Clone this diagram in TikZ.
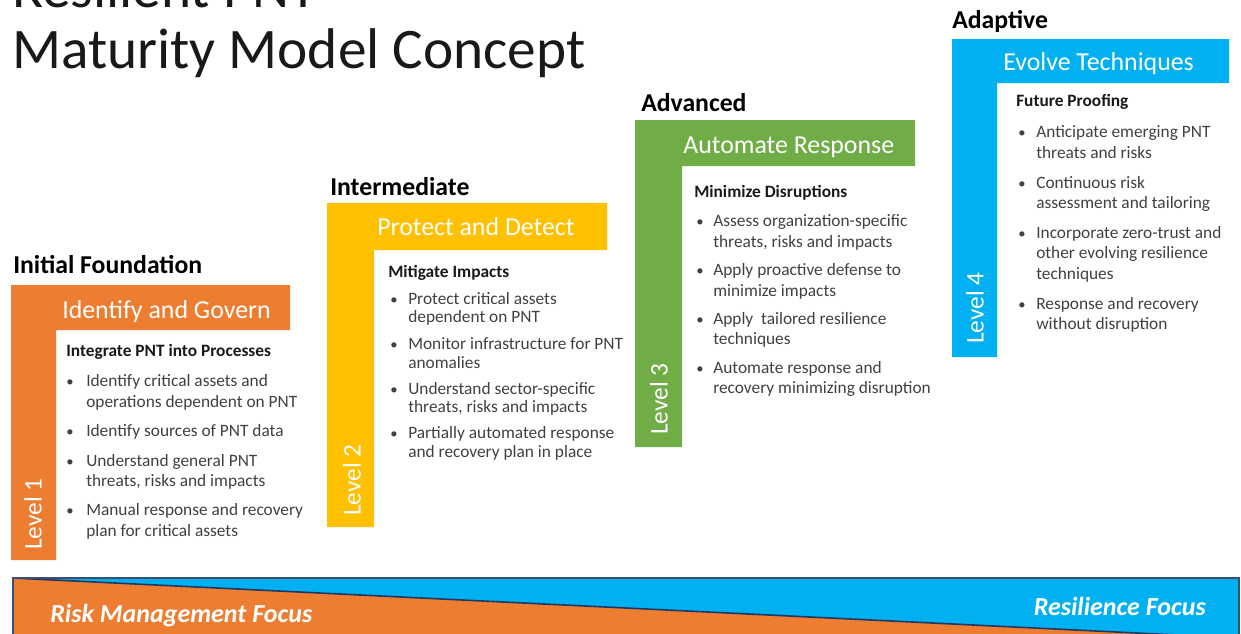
\documentclass[tikz,border=0pt]{standalone}
\usepackage{fontspec}
\setmainfont{Carlito}
\definecolor{lvOrange}{HTML}{ED7D31}
\definecolor{lvYellow}{HTML}{FFC000}
\definecolor{lvGreen}{HTML}{70AD47}
\definecolor{lvBlue}{HTML}{00B0F0}
\definecolor{txtGray}{HTML}{404040}
\definecolor{navyLine}{HTML}{203864}
\begin{document}
\begin{tikzpicture}[x=0.75pt,y=-0.75pt,
  bt/.style={anchor=base west,inner sep=0pt,text=txtGray,font=\fontsize{13}{15}\selectfont},
  bul/.style={anchor=base west,inner sep=0pt,text=txtGray,font=\fontsize{11}{15}\selectfont},
  subhead/.style={anchor=base west,inner sep=0pt,text=black!90,font=\bfseries\fontsize{13}{15}\selectfont},
  cathead/.style={anchor=base west,inner sep=0pt,text=black,font=\bfseries\fontsize{19.3}{22}\selectfont},
  lvtitle/.style={anchor=base west,inner sep=0pt,text=white,font=\fontsize{19.4}{22}\selectfont},
  lvlabel/.style={anchor=center,inner sep=0pt,text=white,rotate=90,font=\fontsize{19}{22}\selectfont},
  focus/.style={inner sep=0pt,text=white,font=\bfseries\itshape\fontsize{19.5}{22}\selectfont}]
\useasboundingbox (0,0) rectangle (1241,633);
\begin{scope}
\clip (0,0) rectangle (1241,633);
% title
\node[anchor=base west,inner sep=0pt,text=black!90,font=\fontsize{43}{48}\selectfont] (title1) at (12,7) {Resilient PNT};
\node[anchor=base west,inner sep=0pt,text=black!90,font=\fontsize{43}{48}\selectfont] (title2) at (12,68) {Maturity Model Concept};

% bottom bar
\fill[lvBlue] (13,578) rectangle (1239,645);
\fill[lvOrange] (13,578) -- (1239,638) -- (1239,645) -- (13,645) -- cycle;
\draw[navyLine,line width=1.2pt] (13,578) -- (1239,638);
\draw[navyLine!70!gray,line width=0.8pt] (13,645) -- (13,578) -- (1239,578) -- (1239,645);
\node[focus,anchor=base west] (riskf) at (50,622) {Risk Management Focus};
\node[focus,anchor=base east] (resf) at (1206,615) {Resilience Focus};
\end{scope}

% ---------- Level 1 ----------
\fill[lvOrange] (11,285) -- (290,285) -- (290,330) -- (56,330) -- (56,560) -- (11,560) -- cycle;
\node[cathead] (c1) at (13,273) {Initial Foundation};
\node[lvtitle] (t1) at (62,318) {Identify and Govern};
\node[lvlabel] (v1) at (33,514) {Level 1};
\node[subhead] (h1) at (66,356) {Integrate PNT into Processes};
\foreach \y in {386,436,466,515} \node[bul] (b1-\y) at (66,\y) {•};
\node[bt] (a1) at (86,386) {Identify critical assets and};
\node[bt] (a2) at (86,407) {operations dependent on PNT};
\node[bt] (a3) at (86,436) {Identify sources of PNT data};
\node[bt] (a4) at (86,466) {Understand general PNT};
\node[bt] (a5) at (86,486) {threats, risks and impacts};
\node[bt] (a6) at (86,515) {Manual response and recovery};
\node[bt] (a7) at (86,536) {plan for critical assets};

% ---------- Level 2 ----------
\fill[lvYellow] (327,203) -- (607,203) -- (607,250) -- (374,250) -- (374,527) -- (327,527) -- cycle;
\node[cathead] (c2) at (330,195) {Intermediate};
\node[lvtitle] (t2) at (377,235) {Protect and Detect};
\node[lvlabel] (v2) at (352,480) {Level 2};
\node[subhead] (h2) at (388,277) {Mitigate Impacts};
\foreach \y in {304,349,394,438} \node[bul] (b2-\y) at (390,\y) {•};
\node[bt] (d1) at (408,304) {Protect critical assets};
\node[bt] (d2) at (408,322) {dependent on PNT};
\node[bt] (d3) at (408,349) {Monitor infrastructure for PNT};
\node[bt] (d4) at (408,368) {anomalies};
\node[bt] (d5) at (408,394) {Understand sector-specific};
\node[bt] (d6) at (408,412) {threats, risks and impacts};
\node[bt] (d7) at (408,438) {Partially automated response};
\node[bt] (d8) at (408,457) {and recovery plan in place};

% ---------- Level 3 ----------
\fill[lvGreen] (635,120) -- (915,120) -- (915,166) -- (682,166) -- (682,447) -- (635,447) -- cycle;
\node[cathead] (c3) at (641,111) {Advanced};
\node[lvtitle] (t3) at (683,153) {Automate Response};
\node[lvlabel] (v3) at (659,399) {Level 3};
\node[subhead] (h3) at (694,197) {Minimize Disruptions};
\foreach \y in {226,275,324,373} \node[bul] (b3-\y) at (696,\y) {•};
\node[bt] (e1) at (713,226) {Assess organization-specific};
\node[bt] (e2) at (713,247) {threats, risks and impacts};
\node[bt] (e3) at (713,275) {Apply proactive defense to};
\node[bt] (e4) at (713,296) {minimize impacts};
\node[bt] (e5) at (713,324) {Apply\ \ tailored resilience};
\node[bt] (e6) at (713,344) {techniques};
\node[bt] (e7) at (713,373) {Automate response and};
\node[bt] (e8) at (713,393) {recovery minimizing disruption};

% ---------- Level 4 ----------
\fill[lvBlue] (952,39) -- (1229,39) -- (1229,83) -- (997,83) -- (997,357) -- (952,357) -- cycle;
\node[cathead] (c4) at (952,28) {Adaptive};
\node[lvtitle] (t4) at (1003,70) {Evolve Techniques};
\node[lvlabel] (v4) at (975,308) {Level 4};
\node[subhead] (h4) at (1016,106) {Future Proofing};
\foreach \y in {137,188,238,309} \node[bul] (b4-\y) at (1018,\y) {•};
\node[bt] (f1) at (1036,137) {Anticipate emerging PNT};
\node[bt] (f2) at (1036,158) {threats and risks};
\node[bt] (f3) at (1036,188) {Continuous risk};
\node[bt] (f4) at (1036,208) {assessment and tailoring};
\node[bt] (f5) at (1036,238) {Incorporate zero-trust and};
\node[bt] (f6) at (1036,258) {other evolving resilience};
\node[bt] (f7) at (1036,279) {techniques};
\node[bt] (f8) at (1036,309) {Response and recovery};
\node[bt] (f9) at (1036,329) {without disruption};
\end{tikzpicture}
\end{document}
